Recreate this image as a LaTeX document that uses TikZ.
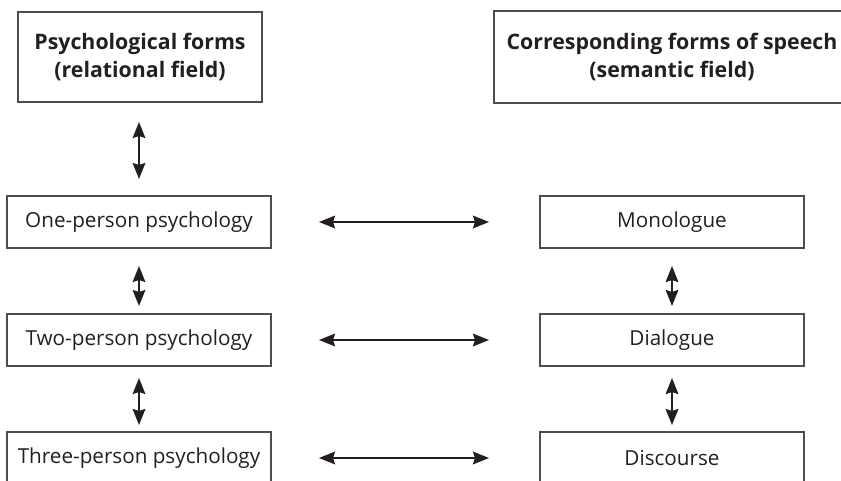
\documentclass[tikz,border=0pt]{standalone}
\usepackage{fontspec}
\setmainfont{Open Sans}
\usetikzlibrary{arrows.meta}
\definecolor{ink}{RGB}{35,31,32}
\tikzset{
  box/.style={draw=ink!80, line width=1.5pt, text=ink, inner sep=0pt,
    minimum height=39pt, font=\fontsize{15.5}{19}\selectfont},
  hdr/.style={box, minimum height=67.5pt, align=center,
    font=\fontsize{16}{20.5}\selectfont\bfseries},
  link/.style={{Stealth[length=12pt,width=9.5pt,inset=1.5pt]}-{Stealth[length=12pt,width=9.5pt,inset=1.5pt]},
    draw=ink, fill=ink, line width=1.5pt},
}
\begin{document}
\begin{tikzpicture}[x=0.75pt,y=0.75pt,yscale=-1,xscale=1]
\useasboundingbox (0,0) rectangle (841,481);
\clip (0,0) rectangle (841,481);

% Headers
\node [hdr, minimum width=183pt] (hdrL) at (140,57) {Psychological forms\\(relational field)};
\node [hdr, draw=none, minimum width=276pt] (hdrR) at (679,57) {};
\draw [ink!80, line width=1.5pt] (hdrR.north east) -- (hdrR.north west) -- (hdrR.south west) -- (hdrR.south east);
\node [font=\fontsize{16}{20.5}\selectfont\bfseries, text=ink, align=center] (hdrRtxt) at (672,57) {Corresponding forms of speech\\(semantic field)};

% Left column
\node [box, minimum width=198pt] (one) at (139,222) {One-person psychology};
\node [box, minimum width=198pt] (two) at (139,340) {Two-person psychology};
\node [box, minimum width=198pt] (three) at (139,458) {Three-person psychology};

% Right column
\node [box, minimum width=198pt] (mono) at (672,222) {Monologue};
\node [box, minimum width=198pt] (dia) at (672,340) {Dialogue};
\node [box, minimum width=198pt] (disc) at (672,458) {Discourse};

% Vertical links
\draw [link, shorten <=14.25pt, shorten >=12pt] (hdrL.south -| one.north) -- (one.north);
\draw [link, shorten <=12.75pt, shorten >=5.25pt] (one.south) -- (two.north);
\draw [link, shorten <=8.25pt, shorten >=4.5pt] (two.south) -- (three.north);
\draw [link, shorten <=12.75pt, shorten >=5.25pt] (mono.south) -- (dia.north);
\draw [link, shorten <=8.25pt, shorten >=4.5pt] (dia.south) -- (disc.north);

% Horizontal links
\draw [link, shorten <=35.25pt, shorten >=37.5pt] (one.east) -- (mono.west);
\draw [link, shorten <=35.25pt, shorten >=37.5pt] (two.east) -- (dia.west);
\draw [link, shorten <=35.25pt, shorten >=37.5pt] (three.east) -- (disc.west);

\end{tikzpicture}
\end{document}
